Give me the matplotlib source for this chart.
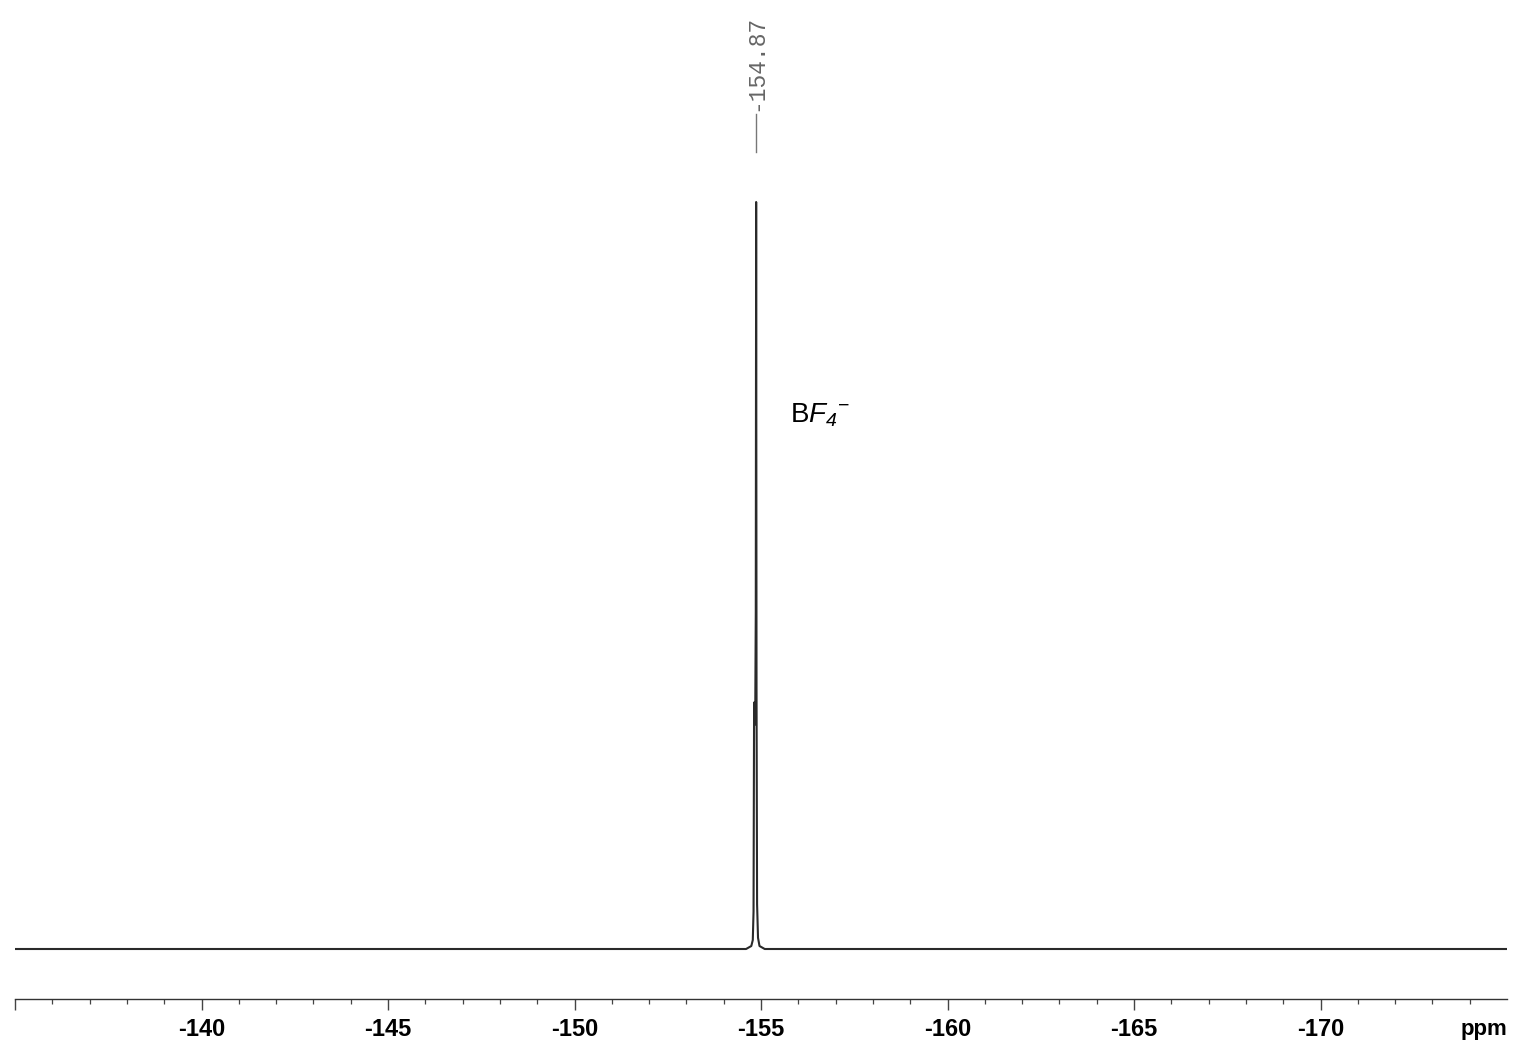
import matplotlib
matplotlib.use("Agg")
import matplotlib.pyplot as plt
import matplotlib.transforms as mtransforms
import numpy as np

# spectrum points (ppm, relative intensity)
ppm = [-135.0, -154.60, -154.74, -154.78, -154.80, -154.815, -154.83, -154.845,
       -154.86, -154.87, -154.88, -154.895, -154.92, -154.96, -155.10, -175.0]
intensity = [0.0, 0.0, 0.004, 0.012, 0.05, 0.33, 0.30, 0.31,
             0.45, 1.0, 0.35, 0.06, 0.015, 0.004, 0.0, 0.0]

peak_labels = [-154.87]
major_ticks = [-135, -140, -145, -150, -155, -160, -165, -170]
major_labels = ["", "-140", "-145", "-150", "-155", "-160", "-165", "-170"]
minor_ticks = list(range(-136, -175, -1))

plt.rcParams['mathtext.fontset'] = 'custom'
plt.rcParams['mathtext.rm'] = 'Liberation Sans'
plt.rcParams['mathtext.it'] = 'Liberation Sans:italic'
plt.rcParams['mathtext.sf'] = 'Liberation Sans:italic'  # italic digits

W, H = 1514, 1046
fig = plt.figure(figsize=(W / 100, H / 100), dpi=100)
ax = fig.add_axes([15 / W, 1 - 999 / H, (1507 - 15) / W, 999 / H])

ax.plot(ppm, intensity, color='#2a2a2a', lw=1.5)
ax.set_xlim(-135, -175)
ax.set_ylim(-(999 - 949) / 747, 949 / 747)

for s in ['top', 'right', 'left']:
    ax.spines[s].set_visible(False)
ax.spines['bottom'].set_color('#333333')
ax.spines['bottom'].set_linewidth(1.0)
ax.set_yticks([])

ax.set_xticks(major_ticks)
ax.set_xticklabels(major_labels, fontfamily='Liberation Sans', fontweight='bold', fontsize=17)
ax.set_xticks(minor_ticks, minor=True)
ax.tick_params(axis='x', which='major', length=8, width=1.0, color='#444444', pad=6)
ax.tick_params(axis='x', which='minor', length=3.5, width=0.9, color='#444444')

# ppm unit at right end
ax.text(1.0, -0.031, "ppm", transform=ax.transAxes, ha='right', va='center',
        fontfamily='Liberation Sans', fontweight='bold', fontsize=16)

# peak label (TopSpin style)
blend = mtransforms.blended_transform_factory(ax.transData, ax.transAxes)
for p in peak_labels:
    ax.plot([p, p], [1 - 152 / 999, 1 - 114 / 999], transform=blend, color='#777777', lw=1.0)
    ax.text(p, 1 - 111 / 999, f"{p:.2f}", transform=blend, rotation=90, ha='center', va='bottom',
            fontfamily='Liberation Mono', fontsize=16.5, color='#666666')

ax.text(-155.78, 0.715, r'$\mathrm{B}\mathit{F}_{\mathsf{4}}{}^{\mathrm{-}}$', ha='left', va='center',
        fontsize=20, color='black')

fig.savefig("out.png", dpi=100)
